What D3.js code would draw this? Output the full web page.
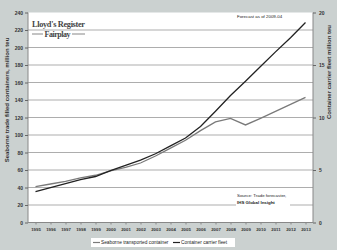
<!DOCTYPE html>
<html>
<head>
<meta charset="utf-8">
<script src="https://cdn.jsdelivr.net/npm/d3@7"></script>
<style>
  body { margin: 0; background: #cbd1d0; }
  svg { display: block; font-family: "Liberation Sans", Arial, sans-serif; }
</style>
</head>
<body>
<script>
// data
const years = [1995, 1996, 1997, 1998, 1999, 2000, 2001, 2002, 2003, 2004,
  2005, 2006, 2007, 2008, 2009, 2010, 2011, 2012, 2013];
// seaborne trade filled containers, million teu (left axis)
const seaborne = [41, 44, 47, 51, 54, 59, 63, 68, 76, 85,
  94, 105, 115, 119, 111.5, 119, 127, 135, 143];
// container carrier fleet, million teu (right axis)
const fleet = [2.95, 3.33, 3.7, 4.08, 4.38, 4.95, 5.45, 5.95, 6.55, 7.3,
  8.05, 9.15, 10.6, 12.1, 13.45, 14.85, 16.25, 17.6, 19.05];
const leftTicks = d3.range(0, 241, 20);
const rightTicks = [0, 5, 10, 15, 20];

const W = 337, H = 250;
const pLeft = 28, pRight = 313, pTop = 12.5, pBottom = 222.5;

let svg = d3.select("body").append("svg")
  .attr("width", W)
  .attr("height", H);

svg.append("rect")
  .attr("width", W).attr("height", H)
  .style("fill", "#cbd1d0");

svg.append("rect")
  .attr("x", pLeft).attr("y", pTop)
  .attr("width", pRight - pLeft).attr("height", pBottom - pTop)
  .style("fill", "#fff");

let x = d3.scalePoint().domain(years).range([pLeft, pRight]).padding(0.5);
let yL = d3.scaleLinear().domain([0, 240]).range([pBottom, pTop]);
let yR = d3.scaleLinear().domain([0, 20]).range([pBottom, pTop]);

// gridlines
svg.append("g")
  .selectAll("line")
  .data(leftTicks.filter(d => d > 0 && d < 240))
  .join("line")
  .attr("x1", pLeft).attr("x2", pRight)
  .attr("y1", d => yL(d)).attr("y2", d => yL(d))
  .style("stroke", "#a4a4a4")
  .style("stroke-width", 0.9);

// left axis
let gl = svg.append("g")
  .attr("transform", `translate(${pLeft},0)`)
  .call(d3.axisLeft(yL).tickValues(leftTicks).tickSize(3).tickPadding(2));
gl.select(".domain").style("stroke", "#888").attr("d", `M0,${pTop}V${pBottom}`);
gl.selectAll(".tick line").style("stroke", "#666");
gl.selectAll("text").style("font-size", "5px").style("font-weight", "bold").style("fill", "#333");

// right axis
let gr = svg.append("g")
  .attr("transform", `translate(${pRight},0)`)
  .call(d3.axisRight(yR).tickValues(rightTicks).tickSize(3).tickPadding(3));
gr.select(".domain").style("stroke", "#888").attr("d", `M0,${pTop}V${pBottom}`);
gr.selectAll(".tick line").style("stroke", "#666");
gr.selectAll("text").style("font-size", "5px").style("font-weight", "bold").style("fill", "#333");

// bottom axis
let gb = svg.append("g")
  .attr("transform", `translate(0,${pBottom})`)
  .call(d3.axisBottom(x).tickSize(2).tickPadding(3));
gb.select(".domain").style("stroke", "#888").attr("d", `M${pLeft},0H${pRight}`);
gb.selectAll(".tick line").style("stroke", "#888");
gb.selectAll("text").style("font-size", "4.3px").style("font-weight", "bold").style("fill", "#333");

// axis titles
svg.append("text")
  .attr("transform", "translate(9,100) rotate(-90)")
  .attr("text-anchor", "middle")
  .style("font-size", "6px").style("font-weight", "bold").style("fill", "#333")
  .text("Seaborne trade filled containers, million teu");

svg.append("text")
  .attr("transform", "translate(331,72) rotate(-90)")
  .attr("text-anchor", "middle")
  .style("font-size", "6px").style("font-weight", "bold").style("fill", "#333")
  .text("Container carrier fleet million teu");

// source note on white box
svg.append("rect")
  .attr("x", 236).attr("y", 191).attr("width", 54).attr("height", 16)
  .style("fill", "#fff");
svg.append("text")
  .attr("x", 237).attr("y", 197)
  .style("font-size", "4.4px").style("fill", "#222")
  .text("Source: Trade forecaster,");
svg.append("text")
  .attr("x", 237).attr("y", 203.5)
  .style("font-size", "4.4px").style("font-weight", "bold").style("fill", "#222")
  .text("IHS Global Insight");

svg.append("text")
  .attr("x", 237).attr("y", 18)
  .style("font-size", "4.4px").style("fill", "#222")
  .text("Forecast as of 2009-04");

// logo
svg.append("text")
  .attr("x", 32).attr("y", 27)
  .style("font-family", "'Liberation Serif', serif")
  .style("font-size", "8.3px").style("font-weight", "600").style("fill", "#444")
  .attr("textLength", 53)
  .text("Lloyd's Register");
svg.append("text")
  .attr("x", 44.5).attr("y", 37)
  .style("font-family", "'Liberation Serif', serif")
  .style("font-size", "8px").style("font-weight", "600").style("fill", "#444")
  .attr("textLength", 26)
  .text("Fairplay");
svg.append("line").attr("x1", 32).attr("x2", 43).attr("y1", 34).attr("y2", 34)
  .style("stroke", "#555").style("stroke-width", 0.7);
svg.append("line").attr("x1", 72).attr("x2", 85).attr("y1", 34).attr("y2", 34)
  .style("stroke", "#555").style("stroke-width", 0.7);

// lines
let lineL = d3.line().x((d, i) => x(years[i])).y(d => yL(d));
let lineR = d3.line().x((d, i) => x(years[i])).y(d => yR(d));

svg.append("path")
  .datum(seaborne)
  .attr("d", lineL)
  .style("fill", "none")
  .style("stroke", "#7a7a7a")
  .style("stroke-width", 1.3);

svg.append("path")
  .datum(fleet)
  .attr("d", lineR)
  .style("fill", "none")
  .style("stroke", "#222")
  .style("stroke-width", 1.3);

// legend
let lg = svg.append("g");
lg.append("rect")
  .attr("x", 91).attr("y", 238).attr("width", 144).attr("height", 9)
  .style("fill", "#fff");
let legendItems = [
  { name: "Seaborne transported container", color: "#7a7a7a", x: 93 },
  { name: "Container carrier fleet", color: "#222", x: 173 }
];
legendItems.forEach(function (d) {
  lg.append("line")
    .attr("x1", d.x).attr("x2", d.x + 7)
    .attr("y1", 242.5).attr("y2", 242.5)
    .style("stroke", d.color).style("stroke-width", 1.2);
  lg.append("text")
    .attr("x", d.x + 8).attr("y", 244.3)
    .style("font-size", "4.8px").style("fill", "#222")
    .text(d.name);
});
</script>
</body>
</html>
